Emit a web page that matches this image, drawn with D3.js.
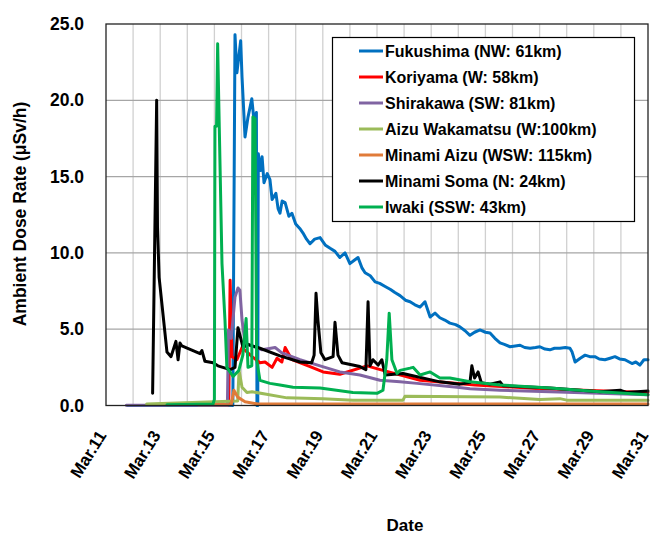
<!DOCTYPE html>
<html>
<head>
<meta charset="utf-8">
<script src="https://cdn.jsdelivr.net/npm/d3@7"></script>
<style>
    body { margin: 0; background: #fff; }
    svg { font-family: "Liberation Sans", Arial, sans-serif; }
</style>
</head>
<body>
<script>
    // [day of March, dose rate uSv/h]
    var fukushima = [[11.8,0],[15.68,0],[15.76,24.3],[15.83,21.8],[15.97,23.9],[16.02,21.5],[16.13,17.6],[16.24,18.9],
        [16.38,20.1],[16.46,18.7],[16.55,19.2],[16.57,0],[16.60,0],[16.62,16.5],[16.7,15.4],[16.76,16.3],[16.83,14.6],
        [16.95,15.2],[17.05,14.8],[17.13,13.5],[17.27,13.9],[17.35,12.9],[17.42,12.6],[17.5,13.4],[17.61,13.3],
        [17.75,12.4],[17.86,12.6],[18.0,11.9],[18.15,11.6],[18.27,11.3],[18.4,10.9],[18.53,10.6],[18.7,10.9],
        [18.90,11.0],[19.1,10.5],[19.27,10.3],[19.45,10.1],[19.63,9.7],[19.82,10.0],[20.00,9.3],[20.15,9.5],
        [20.30,9.7],[20.45,9.0],[20.56,8.7],[20.75,8.5],[20.93,8.1],[21.1,8.0],[21.30,7.8],[21.5,7.6],[21.66,7.4],
        [21.85,7.2],[22.05,6.9],[22.22,6.8],[22.4,6.6],[22.59,6.45],[22.77,6.8],[22.96,5.8],[23.14,6.05],[23.32,5.75],
        [23.5,5.6],[23.69,5.4],[23.9,5.3],[24.06,5.15],[24.25,4.9],[24.43,4.6],[24.6,4.8],[24.80,4.95],[25.0,4.8],
        [25.17,4.75],[25.35,4.4],[25.54,4.1],[25.7,4.0],[25.91,3.85],[26.1,3.9],[26.28,3.95],[26.45,3.8],[26.65,3.75],
        [26.85,3.8],[27.01,3.85],[27.2,3.7],[27.38,3.65],[27.55,3.75],[27.75,3.75],[27.95,3.8],[28.12,3.75],
        [28.2,3.5],[28.31,2.85],[28.5,3.1],[28.68,3.3],[28.85,3.2],[29.04,3.2],[29.2,3.05],[29.41,3.0],[29.6,3.1],
        [29.78,3.2],[29.95,3.05],[30.15,3.0],[30.41,2.75],[30.55,2.85],[30.70,2.65],[30.85,3.0],[31.0,3.0]];
    var koriyama = [[15.0,0.05],[15.53,0.05],[15.58,8.2],[15.65,3.2],[15.83,3.0],[16.02,3.8],[16.39,3.2],[16.68,2.8],
        [16.87,2.85],[17.13,2.5],[17.31,3.1],[17.49,2.85],[17.61,3.8],[17.86,3.0],[18.53,2.55],[19.01,2.2],[19.63,2.05],
        [20.63,2.6],[21.22,2.3],[22.59,1.65],[24.62,1.35],[27.0,1.1],[31.0,0.85]];
    var shirakawa = [[11.75,0.02],[15.48,0.02],[15.52,4.95],[15.62,4.4],[15.76,7.1],[15.87,7.7],[15.94,7.55],
        [16.02,5.6],[16.13,4.1],[16.31,3.95],[16.76,3.65],[17.24,3.8],[17.49,3.45],[18.16,3.0],[18.90,2.6],[19.63,2.2],
        [20.37,2.0],[21.11,1.65],[21.85,1.55],[22.48,1.45],[23.95,1.2],[24.43,1.1],[25.54,1.0],[27.38,0.9],[31.0,0.7]];
    var aizuWakamatsu = [[12.5,0.1],[15.86,0.3],[15.91,2.3],[16.02,1.2],[16.20,0.85],[16.39,0.9],[16.87,0.75],
        [17.68,0.5],[19.01,0.45],[20.11,0.35],[21.96,0.35],[22.03,0.6],[25.54,0.55],[27.01,0.4],[27.75,0.45],
        [28.0,0.35],[31.0,0.35]];
    var minamiAizu = [[14.4,0.05],[15.62,0.05],[15.72,1.0],[15.86,0.55],[16.13,0.25],[16.6,0.1],[31.0,0.1]];
    var minamiSoma = [[12.72,0.8],[12.87,20.0],[12.90,11.7],[12.96,8.4],[13.25,3.5],[13.40,3.2],[13.58,4.2],[13.66,3.0],
        [13.73,4.1],[13.80,3.9],[14.47,3.4],[14.54,3.6],[14.65,2.9],[14.95,2.8],[15.13,2.6],[15.58,2.35],[15.76,2.5],
        [15.87,5.1],[16.06,3.8],[16.24,4.0],[16.68,3.75],[17.42,3.25],[18.16,2.85],[18.59,2.8],[18.68,3.3],[18.75,7.35],
        [18.82,5.6],[18.93,3.45],[19.08,3.0],[19.38,3.2],[19.45,5.45],[19.56,3.3],[19.71,2.8],[20.37,2.55],[20.59,2.35],
        [20.67,6.8],[20.74,2.6],[20.85,3.0],[21.04,2.65],[21.18,3.0],[21.30,2.0],[21.96,2.1],[23.32,1.55],[24.06,1.4],
        [24.43,1.5],[24.50,2.6],[24.60,1.8],[24.73,2.2],[24.85,1.5],[25.17,1.4],[25.54,1.55],[25.65,1.3],[27.38,1.15],
        [29.23,0.9],[29.97,1.0],[30.2,0.85],[31.0,0.95]];
    var iwaki = [[13.25,0.05],[14.95,0.1],[15.0,0.4],[15.02,18.3],[15.08,18.3],[15.12,23.7],[15.16,20.0],[15.28,9.3],
        [15.39,5.6],[15.46,2.5],[15.69,1.9],[15.9,2.3],[16.05,3.3],[16.17,5.7],[16.24,2.5],[16.38,2.6],[16.42,18.9],
        [16.50,18.8],[16.56,3.0],[16.68,1.65],[17.05,1.45],[17.42,1.35],[17.90,1.2],[18.90,1.15],[20.11,0.85],
        [21.0,0.8],[21.22,1.0],[21.36,3.0],[21.45,6.05],[21.55,3.0],[21.74,2.1],[21.85,2.3],[22.22,2.45],[22.33,2.5],
        [22.59,2.0],[22.96,2.2],[23.32,1.8],[23.69,1.8],[24.43,1.55],[25.54,1.35],[27.38,1.15],[29.23,0.9],[31.0,0.7]];

    var seriesNames = ["Fukushima (NW: 61km)", "Koriyama (W: 58km)", "Shirakawa (SW: 81km)",
        "Aizu Wakamatsu (W:100km)", "Minami Aizu (WSW: 115km)", "Minami Soma (N: 24km)", "Iwaki (SSW: 43km)"];
    var seriesColors = ["#0070c0", "#ff0000", "#8064a2", "#9bbb59", "#e07b39", "#000000", "#00b050"];
    var seriesData = [fukushima, koriyama, shirakawa, aizuWakamatsu, minamiAizu, minamiSoma, iwaki];

    var xTicks = d3.range(11, 32, 2);
    var xGrid = d3.range(12, 31, 1);
    var yTicks = [0, 5, 10, 15, 20, 25];

    (function () {
        var width = 650, height = 534;
        var plotLeft = 106, plotRight = 648, plotTop = 24, plotBottom = 405.5;

        var svg = d3.select("body").append("svg")
            .attr("width", width)
            .attr("height", height);

        var x = d3.scaleLinear().domain([11, 31]).range([plotLeft, plotRight]);
        var y = d3.scaleLinear().domain([0, 25]).range([plotBottom, plotTop]);

        // grid
        svg.append("g").selectAll("line")
            .data(xGrid)
            .enter().append("line")
            .attr("x1", function (d) { return x(d); })
            .attr("x2", function (d) { return x(d); })
            .attr("y1", plotTop).attr("y2", plotBottom)
            .attr("stroke", "#d0d0d0").attr("stroke-width", 1.3);

        svg.append("g").selectAll("line")
            .data(yTicks.slice(1, -1))
            .enter().append("line")
            .attr("x1", plotLeft).attr("x2", plotRight)
            .attr("y1", function (d) { return y(d); })
            .attr("y2", function (d) { return y(d); })
            .attr("stroke", "#a6a6a6").attr("stroke-width", 1.3);

        // y axis labels
        var yAxis = svg.append("g")
            .attr("transform", "translate(" + plotLeft + ",0)")
            .call(d3.axisLeft(y).tickValues(yTicks).tickSize(0).tickPadding(22)
                .tickFormat(d3.format(".1f")));
        yAxis.select(".domain").remove();
        yAxis.selectAll("text")
            .attr("font-size", "17.5px")
            .attr("font-weight", "bold")
            .attr("fill", "#000")
            .attr("font-family", "Liberation Sans, Arial, sans-serif");

        // x axis labels
        svg.append("g").selectAll("text")
            .data(xTicks)
            .enter().append("text")
            .attr("transform", function (d) {
                return "translate(" + (x(d) - 4) + ",432) rotate(-58)";
            })
            .attr("text-anchor", "end")
            .attr("dy", "0.35em")
            .attr("font-size", "17px")
            .attr("font-weight", "bold")
            .text(function (d) { return "Mar." + d; });

        // series
        var line = d3.line()
            .x(function (d) { return x(d[0]); })
            .y(function (d) { return y(d[1]); });

        var plot = svg.append("g");
        seriesData.forEach(function (data, i) {
            plot.append("path")
                .datum(data)
                .attr("d", line)
                .attr("fill", "none")
                .attr("stroke", seriesColors[i])
                .attr("stroke-width", 3)
                .attr("stroke-linejoin", "round")
                .attr("stroke-linecap", "round");
        });

        // plot frame
        svg.append("rect")
            .attr("x", plotLeft).attr("y", plotTop)
            .attr("width", plotRight - plotLeft).attr("height", plotBottom - plotTop)
            .attr("fill", "none")
            .attr("stroke", "#222").attr("stroke-width", 1.3);

        // legend
        var legend = svg.append("g");
        legend.append("rect")
            .attr("x", 332.5).attr("y", 37.5)
            .attr("width", 302).attr("height", 184)
            .attr("fill", "#fff")
            .attr("stroke", "#000").attr("stroke-width", 1.2);

        var item = legend.selectAll(".item")
            .data(seriesNames)
            .enter().append("g")
            .attr("transform", function (d, i) { return "translate(0," + (51 + i * 26) + ")"; });
        item.append("line")
            .attr("x1", 359).attr("x2", 383)
            .attr("stroke", function (d, i) { return seriesColors[i]; })
            .attr("stroke-width", 3);
        item.append("text")
            .attr("x", 385)
            .attr("dy", "0.35em")
            .attr("font-size", "16px")
            .attr("font-weight", "bold")
            .text(function (d) { return d; });

        // axis titles
        svg.append("text")
            .attr("transform", "translate(26,214) rotate(-90)")
            .attr("text-anchor", "middle")
            .attr("font-size", "17.5px")
            .attr("font-weight", "bold")
            .text("Ambient Dose Rate (μSv/h)");

        svg.append("text")
            .attr("x", 405).attr("y", 531)
            .attr("text-anchor", "middle")
            .attr("font-size", "17px")
            .attr("font-weight", "bold")
            .text("Date");
    }());
</script>
</body>
</html>
